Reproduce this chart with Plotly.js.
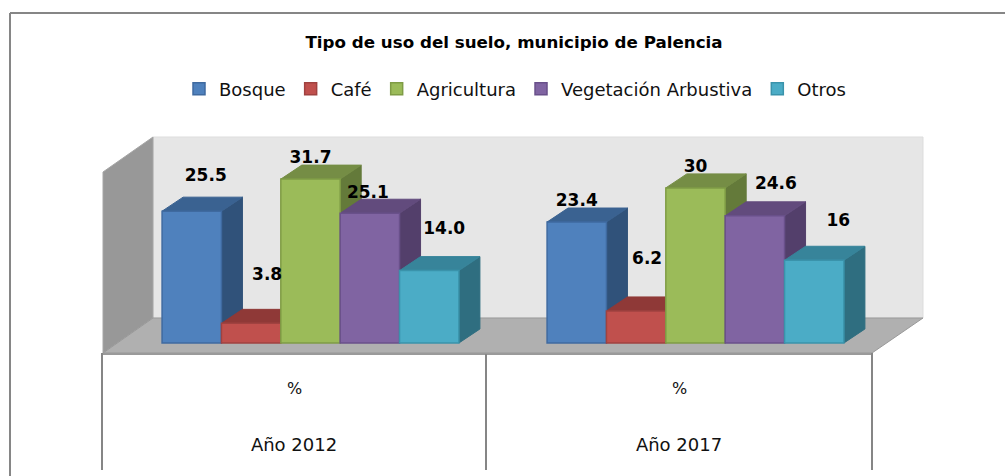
<!DOCTYPE html>
<html><head><meta charset="utf-8">
<script src="https://cdn.plot.ly/plotly-3.0.1.min.js"></script>
<style>html,body{margin:0;padding:0;background:#fff}#c{width:1005px;height:476px}</style>
</head><body><div id="c"></div>
<script>
// ---- data
var years = ['Año 2012', 'Año 2017'];
var units = ['%', '%'];
var seriesNames = ['Bosque', 'Café', 'Agricultura', 'Vegetación Arbustiva', 'Otros'];
var bosque = [25.5, 23.4];
var cafe = [3.8, 6.2];
var agricultura = [31.7, 30];
var vegetacion = [25.1, 24.6];
var otros = [14.0, 16];
var bosqueLabels = ['25.5', '23.4'];
var cafeLabels = ['3.8', '6.2'];
var agriculturaLabels = ['31.7', '30'];
var vegetacionLabels = ['25.1', '24.6'];
var otrosLabels = ['14.0', '16'];
var seriesValues = [bosque, cafe, agricultura, vegetacion, otros];
var seriesLabels = [bosqueLabels, cafeLabels, agriculturaLabels, vegetacionLabels, otrosLabels];

// ---- styles
var frontColors = ['#4F81BD', '#C0504D', '#9BBB59', '#8064A2', '#4BACC6'];
var edgeColors = ['#3F6AA0', '#A04240', '#7F9C45', '#69508A', '#3A93AB'];
var topColors = ['#3A6291', '#8F3937', '#758D45', '#624B7D', '#37849A'];
var sideColors = ['#30527A', '#7A302E', '#647A3A', '#533F6B', '#2F6E80'];
var W = 1005, H = 476;
var pxPerUnitX = 385, pxPerUnitY = 5.17;
var originX = 310.5, originY = 343;      // pixel of x=0 / y=0
var gapFrac = 0.229;
var depthX = 21 / pxPerUnitX, depthY = 14 / pxPerUnitY;
var barW = (1 - gapFrac) / seriesNames.length;
// label placement relative to the bar's front-top centre, pixels [right, up] per group
var labelOffsets = [
  [[14, 34], [0, 20]],
  [[16, 48], [11, 51]],
  [[0, 20], [0, 20]],
  [[-2, 19], [21, 31]],
  [[15, 41], [24, 39]]
];
var xRange = [-originX / pxPerUnitX, (W - originX) / pxPerUnitX];
var yRange = [(originY - H) / pxPerUnitY, originY / pxPerUnitY];
var textFont = 'DejaVu Sans, sans-serif';
var textCol = '#111111';

function px(x) { return (x / W).toFixed(5); }
function py(y) { return (1 - y / H).toFixed(5); }
function poly(pts) {
  return 'M' + pts.map(function (p) { return px(p[0]) + ',' + py(p[1]); }).join('L') + 'Z';
}
function lineShape(x0, y0, x1, y1, col, w) {
  return { type: 'line', xref: 'paper', yref: 'paper', x0: x0 / W, x1: x1 / W, y0: 1 - y0 / H, y1: 1 - y1 / H,
    line: { color: col, width: w }, layer: 'below' };
}
function polyShape(pts, fill, col) {
  return { type: 'path', xref: 'paper', yref: 'paper', path: poly(pts), fillcolor: fill,
    line: { color: col, width: 1 }, layer: 'below' };
}

var traces = [];
seriesNames.forEach(function (name, s) {
  var vals = seriesValues[s];
  var sx = [], sy = [], tx = [], ty = [], lx = [], ly = [];
  vals.forEach(function (v, g) {
    var x0 = g - (1 - gapFrac) / 2 + s * barW, x1 = x0 + barW;
    sx.push(x1, x1, x1 + depthX, x1 + depthX, x1, null);
    sy.push(0, v, v + depthY, depthY, 0, null);
    tx.push(x0, x1, x1 + depthX, x0 + depthX, x0, null);
    ty.push(v, v, v + depthY, v + depthY, v, null);
    lx.push(x0 + barW / 2 + labelOffsets[s][g][0] / pxPerUnitX);
    ly.push(v + labelOffsets[s][g][1] / pxPerUnitY);
  });
  var onTop = (s === 1); // the Café labels sit above the neighbouring front faces
  traces.push({ type: 'scatter', mode: 'text', x: lx, y: ly, text: seriesLabels[s], textposition: 'middle center',
    textfont: { family: textFont, size: 17, color: '#000', weight: 700 }, showlegend: false, hoverinfo: 'skip',
    xaxis: onTop ? 'x2' : 'x', yaxis: onTop ? 'y2' : 'y' });
  traces.push({ type: 'scatter', mode: 'lines', x: sx, y: sy, fill: 'toself', fillcolor: sideColors[s],
    line: { color: sideColors[s], width: 1 }, showlegend: false, hoverinfo: 'skip', connectgaps: false });
  traces.push({ type: 'scatter', mode: 'lines', x: tx, y: ty, fill: 'toself', fillcolor: topColors[s],
    line: { color: topColors[s], width: 1 }, showlegend: false, hoverinfo: 'skip', connectgaps: false });
});
seriesNames.forEach(function (name, s) {
  traces.push({ type: 'bar', name: name, x: years.map(function (_, g) { return g; }), y: seriesValues[s],
    marker: { color: frontColors[s], line: { color: edgeColors[s], width: 1.5 } },
    xaxis: 'x2', yaxis: 'y2' });
});

var tableGray = '#868686';
var shapes = [
  lineShape(10, 13, 1005, 13, tableGray, 2),
  lineShape(10, 13, 10, 476, tableGray, 2),
  polyShape([[153, 137], [923, 137], [923, 318], [153, 318]], '#E6E6E6', '#DDDDDD'),
  polyShape([[103, 172], [153, 137], [153, 318], [103, 353]], '#989898', '#A6A6A6'),
  polyShape([[153, 318], [923, 318], [872, 353], [103, 353]], '#B0B0B0', '#999999'),
  lineShape(103, 354, 872, 354, '#9A9A9A', 2),
  lineShape(102, 353, 102, 470, tableGray, 2),
  lineShape(486, 354, 486, 470, tableGray, 2),
  lineShape(872, 353, 872, 470, tableGray, 2)
];

var tableCentres = [294, 679];
var yearTicks = tableCentres.map(function (c) { return (c - originX) / pxPerUnitX; });
var annotations = units.map(function (u, g) {
  return { xref: 'paper', yref: 'paper', x: tableCentres[g] / W, y: 1 - 388 / H, text: u, showarrow: false,
    xanchor: 'center', yanchor: 'middle', font: { family: textFont, size: 16, color: textCol } };
});

var layout = {
  width: W, height: H, margin: { l: 0, r: 0, t: 0, b: 0 },
  paper_bgcolor: '#fff', plot_bgcolor: 'rgba(0,0,0,0)',
  title: { text: '<b>Tipo de uso del suelo, municipio de Palencia</b>', x: 514 / W, xanchor: 'center',
    y: 1 - 42 / H, yanchor: 'middle', font: { family: textFont, size: 16.7, color: '#000' } },
  barmode: 'group', bargap: gapFrac, bargroupgap: 0,
  showlegend: true,
  legend: { orientation: 'h', x: 515 / W, xanchor: 'center', y: 1 - 89 / H, yanchor: 'middle',
    bgcolor: 'rgba(0,0,0,0)', font: { family: textFont, size: 18, color: textCol } },
  xaxis: { range: xRange, domain: [0, 1], anchor: 'free', position: 1 - 432 / H, tickmode: 'array', tickvals: yearTicks,
    ticktext: years, showgrid: false, zeroline: false, showline: false, ticks: '', automargin: false,
    tickfont: { family: textFont, size: 18, color: textCol } },
  yaxis: { range: yRange, domain: [0, 1], visible: false, fixedrange: true },
  xaxis2: { range: xRange, overlaying: 'x', anchor: 'y2', visible: false },
  yaxis2: { range: yRange, overlaying: 'y', anchor: 'x2', visible: false },
  shapes: shapes, annotations: annotations
};
Plotly.newPlot('c', traces, layout, { displayModeBar: false, responsive: false });
</script></body></html>
